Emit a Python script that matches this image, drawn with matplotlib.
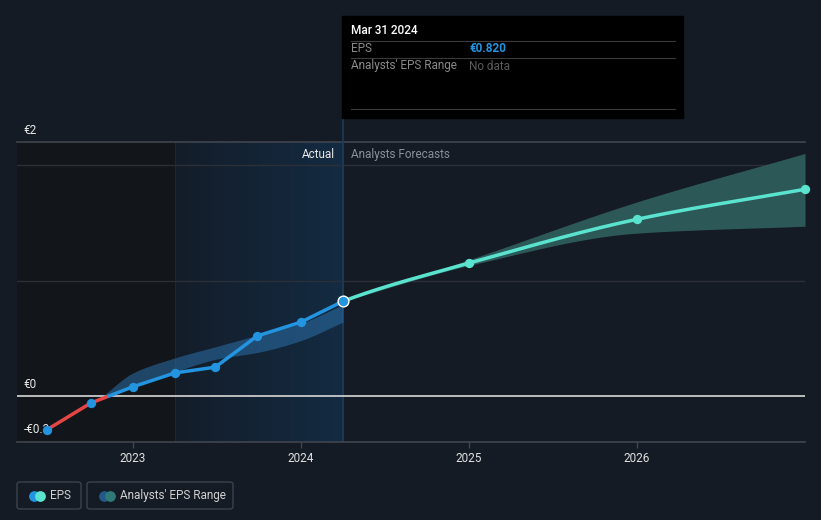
import numpy as np
import matplotlib.pyplot as plt
from matplotlib.patches import FancyBboxPatch, Rectangle
from matplotlib.colors import LinearSegmentedColormap

plt.rcParams['font.family'] = ['Roboto', 'DejaVu Sans']

# EPS history (decimal years) and values
eps_x = [2022.49, 2022.75, 2023.0, 2023.25, 2023.49, 2023.74, 2024.0, 2024.25]
eps_y = [-0.29, -0.06, 0.08, 0.20, 0.25, 0.52, 0.64, 0.82]

# past analyst range
past_x = [2022.82, 2023.0, 2023.25, 2023.5, 2023.75, 2024.0, 2024.25]
past_lo = [0.0, 0.08, 0.21, 0.32, 0.38, 0.48, 0.64]
past_hi = [0.0, 0.20, 0.33, 0.43, 0.53, 0.63, 0.79]

# forecasts
fc_x = [2024.25, 2025.0, 2026.0, 2027.0]
fc_y = [0.82, 1.15, 1.53, 1.79]
fc_lo = [0.82, 1.13, 1.41, 1.47]
fc_hi = [0.82, 1.18, 1.68, 2.10]

years = [2023, 2024, 2025, 2026]

BG = '#151b25'
BLUE = '#2394df'
TEAL = '#5ae4cf'
RED = '#e64545'
FS = 8.5


def smooth(x, y, n=200, m0=None):
    # monotone cubic, only for drawing the curve
    x = np.asarray(x, float); y = np.asarray(y, float)
    h = np.diff(x); d = np.diff(y) / h
    m = np.zeros_like(y)
    m[0], m[-1] = d[0], d[-1]
    if m0 is not None:
        m[0] = m0
    for i in range(1, len(x) - 1):
        if d[i - 1] * d[i] > 0:
            m[i] = 2 / (1 / d[i - 1] + 1 / d[i])
    xs = np.linspace(x[0], x[-1], n)
    k = np.clip(np.searchsorted(x, xs) - 1, 0, len(x) - 2)
    t = (xs - x[k]) / h[k]
    h00 = 2*t**3 - 3*t**2 + 1; h10 = t**3 - 2*t**2 + t
    h01 = -2*t**3 + 3*t**2; h11 = t**3 - t**2
    ys = h00*y[k] + h10*h[k]*m[k] + h01*y[k+1] + h11*h[k]*m[k+1]
    return xs, ys


fig = plt.figure(figsize=(8.21, 5.20), dpi=100, facecolor=BG)
ax = fig.add_axes([17/821, 78/520, 788/821, 300/520])
ax.set_facecolor(BG)
x0, x1 = 2022.31, 2027.0
y0, y1 = -0.398, 2.199
ax.set_xlim(x0, x1)
ax.set_ylim(y0, y1)

# shaded zones
ax.axvspan(x0, 2023.25, color='#121519', zorder=0)
cmap = LinearSegmentedColormap.from_list('hl', ['#131d29', '#142b42'])
ax.imshow(np.linspace(0, 1, 400).reshape(1, -1), cmap=cmap, aspect='auto',
          interpolation='bilinear', extent=[2023.25, 2024.25, y0, y1], zorder=0.5)
ax.axvline(2023.25, color='#1b2836', lw=0.8, zorder=0.6)

# grid
for g in [1, 2]:
    ax.axhline(g, color='#2a2f38', lw=1, zorder=1)
ax.axhline(0, color='#d8d8d8', lw=1.2, zorder=2)
ax.axhline(y1, color='#40454f', lw=1.2, zorder=1, clip_on=False)

# bands
sx, slo = smooth(past_x, past_lo)
_, shi = smooth(past_x, past_hi)
ax.fill_between(sx, slo, shi, color='#2b6fa8', alpha=0.55, lw=0, zorder=2)
fx, flo = smooth(fc_x, fc_lo)
_, fhi = smooth(fc_x, fc_hi)
ax.fill_between(fx, flo, fhi, color='#2f5c5b', alpha=0.95, lw=0, zorder=2)

# EPS line, red below zero
ex = np.array(eps_x); ey = np.array(eps_y)
i = np.argmax(ey > 0)
xc = ex[i-1] + (0 - ey[i-1]) * (ex[i] - ex[i-1]) / (ey[i] - ey[i-1])
ax.plot(list(ex[:i]) + [xc], list(ey[:i]) + [0], color=RED, lw=2.5, zorder=3,
        solid_capstyle='round')
ax.plot([xc] + list(ex[i:]), [0] + list(ey[i:]), color=BLUE, lw=2.5, zorder=3,
        solid_capstyle='round')
ax.scatter(ex[:-1], ey[:-1], s=45, color=BLUE, zorder=4, lw=0)

# forecast line (steeper start like the reference)
cx, cy = smooth(fc_x, fc_y, m0=0.55)
ax.plot(cx, cy, color=TEAL, lw=2.5, zorder=3)
ax.scatter(fc_x[1:], fc_y[1:], s=45, color=TEAL, zorder=4, lw=0, clip_on=False)
ax.scatter([ex[-1]], [ey[-1]], s=60, color=BLUE, edgecolor='white', lw=1, zorder=5)

# vertical marker line up to the tooltip
ax.plot([2024.25, 2024.25], [y0, y1 + 0.2], color='#1d3b58', lw=1.2, zorder=1,
        clip_on=False)

for s in ['top', 'right', 'left']:
    ax.spines[s].set_visible(False)
ax.spines['bottom'].set_color('#40454f')
ax.spines['bottom'].set_linewidth(1.2)
ax.set_yticks([])
ax.set_xticks(years)
ax.set_xticklabels([str(y) for y in years], fontsize=FS)
ax.tick_params(axis='x', colors='#40454f', length=4, width=1, pad=3,
               labelcolor='#e0e0e0')

# y labels
ax.text(2022.35, 2.30, '€2', color='#e8e8e8', fontsize=FS, va='center')
ax.text(2022.35, 0.10, '€0', color='#e8e8e8', fontsize=FS, va='center')
ax.text(2022.35, -0.29, '-€0.3', color='#e8e8e8', fontsize=FS, va='center',
        zorder=3.5)

ax.text(2024.2, 2.095, 'Actual', color='#e8e8e8', fontsize=FS, ha='right', va='center')
ax.text(2024.3, 2.095, 'Analysts Forecasts', color='#8a8f98', fontsize=FS,
        ha='left', va='center')

# tooltip box
fig.patches.append(Rectangle((342/821, 1 - 118/520), 341/821, 102/520,
                             transform=fig.transFigure, color='black', zorder=5))
for yy in [41, 58, 109]:
    fig.lines.append(plt.Line2D([351/821, 675/821], [1 - yy/520] * 2,
                                transform=fig.transFigure, color='#3a3a3a', lw=0.8,
                                zorder=6))
fig.text(351/821, 1 - 31/520, 'Mar 31 2024', color='white', fontsize=FS,
         va='center', fontweight='medium', zorder=7)
fig.text(351/821, 1 - 49/520, 'EPS', color='#8a8a8a', fontsize=FS, va='center', zorder=7)
fig.text(469/821, 1 - 49/520, '€0.820', color=BLUE, fontsize=FS, va='center',
         fontweight='bold', zorder=7)
fig.text(351/821, 1 - 66/520, "Analysts' EPS Range", color='#8a8a8a', fontsize=FS,
         va='center', zorder=7)
fig.text(469/821, 1 - 66/520, 'No data', color='#5a5a5a', fontsize=FS, va='center',
         zorder=7)

# legend boxes
for (lx, w, label) in [(17, 64, 'EPS'), (87, 146, "Analysts' EPS Range")]:
    fig.patches.append(FancyBboxPatch((lx/821, 1 - 509/520), w/821, 27/520,
                                      boxstyle='round,pad=0,rounding_size=0.004',
                                      transform=fig.transFigure, fc='none',
                                      ec='#3c414b', lw=1))
    fig.text((lx + 33)/821, 1 - 495.5/520, label, color='#d0d0d0', fontsize=FS,
             va='center')

# legend dots on an overlay axes to keep them round
lax = fig.add_axes([0, 0, 1, 1], facecolor='none')
lax.set_xlim(0, 821); lax.set_ylim(520, 0); lax.axis('off')
for lx, c1, c2 in [(17, BLUE, TEAL), (87, '#22598a', '#2f7a76')]:
    lax.scatter([lx + 17], [495.5], s=60, color=c1, lw=0)
    lax.scatter([lx + 23], [495.5], s=60, color=c2, lw=0)

fig.savefig('out.png', dpi=100, facecolor=BG)
